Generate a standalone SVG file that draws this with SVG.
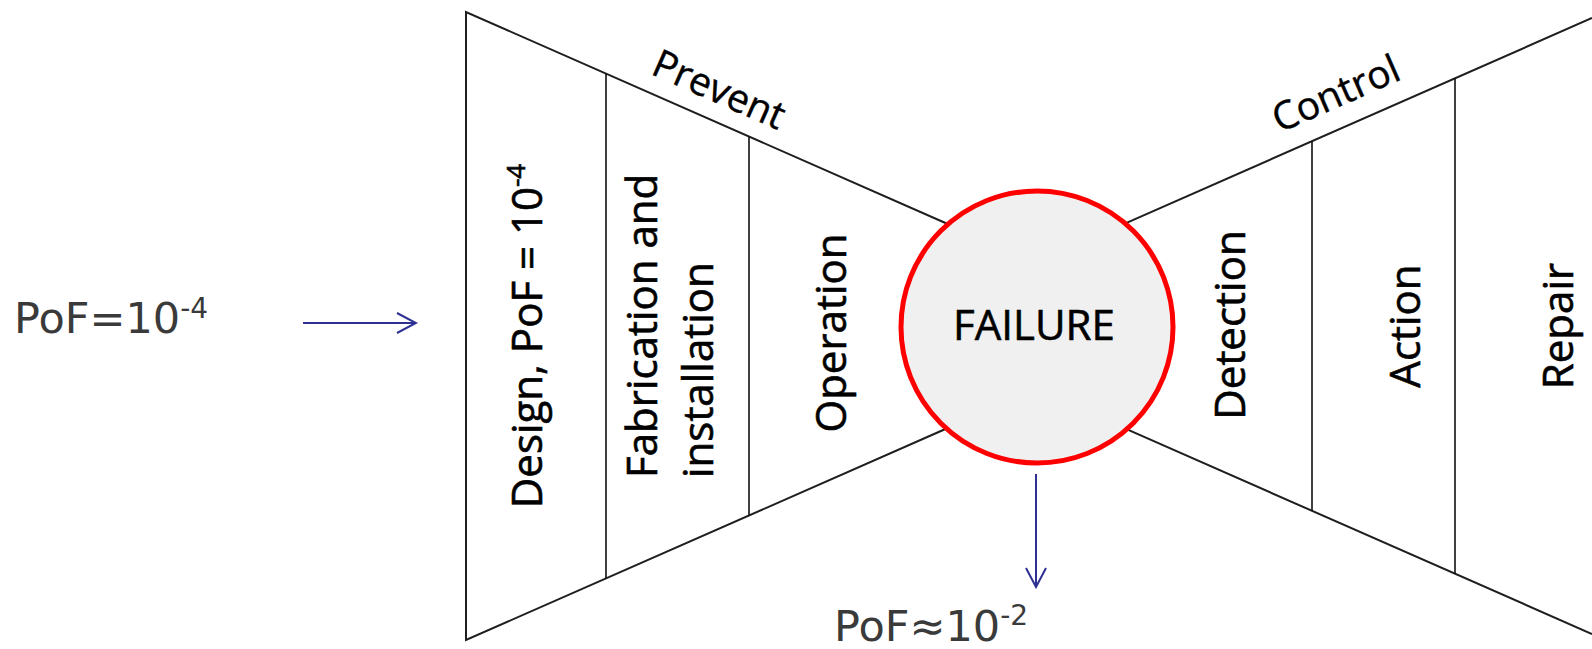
<svg xmlns="http://www.w3.org/2000/svg" width="1592" height="649" viewBox="0 0 1592 649">
  <style>
    .edge { fill: none; stroke: #1e1e1e; stroke-width: 2; }
    .div { fill: none; stroke: #111; stroke-width: 1.6; }
    .lbl { font-family: "Open Sans", "Noto Sans", sans-serif; font-size: 42px; fill: #000; stroke: #000; stroke-width: 0.6; }
    .side { font-family: "Open Sans", "Noto Sans", sans-serif; font-size: 39px; fill: #000; stroke: #000; stroke-width: 0.4; }
    .pof { font-family: "DejaVu Sans", "Verdana", sans-serif; font-size: 43px; fill: #3a3a3a; }
    .sup { font-size: 28px; }
    .arrow { fill: none; stroke: #2e3192; stroke-width: 2; }
  </style>
  <defs>
    <marker id="chev" markerUnits="userSpaceOnUse" viewBox="0 0 22 22" refX="20" refY="11" markerWidth="22" markerHeight="22" orient="auto">
      <path d="M1,1 L20,11 L1,21" fill="none" stroke="#2e3192" stroke-width="2"/>
    </marker>
  </defs>
  <rect width="1592" height="649" fill="#fff"/>

  <g id="prevent">
    <polyline class="edge" points="950,225 466,12 466,640 950,427"/>
    <line class="div" x1="606" y1="73.6" x2="606" y2="578.4"/>
    <line class="div" x1="749" y1="136.5" x2="749" y2="515.5"/>
    <text class="side" text-anchor="middle" transform="translate(719,90) rotate(23.75)" x="0" y="13">Prevent</text>
  </g>

  <g id="control">
    <polyline class="edge" points="1122,224.8 1592,18"/>
    <polyline class="edge" points="1122,427.2 1592,634"/>
    <line class="div" x1="1312" y1="141" x2="1312" y2="511"/>
    <line class="div" x1="1455" y1="78" x2="1455" y2="574"/>
    <text class="side" text-anchor="middle" transform="translate(1336,94) rotate(-23.75)" x="0" y="13">Control</text>
  </g>

  <g id="design">
    <text class="lbl" text-anchor="middle" transform="translate(542,336) rotate(-90)">Design, PoF = 10<tspan font-size="26" dy="-17">-4</tspan></text>
  </g>
  <g id="fabrication">
    <text class="lbl" transform="translate(657,478) rotate(-90)">Fabrication and</text>
    <text class="lbl" transform="translate(713,478) rotate(-90)">installation</text>
  </g>
  <g id="operation">
    <text class="lbl" text-anchor="middle" transform="translate(846,333) rotate(-90)">Operation</text>
  </g>
  <g id="detection">
    <text class="lbl" text-anchor="middle" transform="translate(1245,325) rotate(-90)">Detection</text>
  </g>
  <g id="action">
    <text class="lbl" text-anchor="middle" transform="translate(1420,326) rotate(-90)">Action</text>
  </g>
  <g id="repair">
    <text class="lbl" text-anchor="middle" transform="translate(1573,326) rotate(-90)">Repair</text>
  </g>

  <g id="failure">
    <circle cx="1037" cy="327" r="136" fill="#f0f0f0" stroke="#ff0000" stroke-width="5"/>
    <text class="lbl" font-size="40" text-anchor="middle" x="1034" y="340">FAILURE</text>
  </g>

  <g id="pof-in">
    <text class="pof" x="14" y="333">PoF=10<tspan class="sup" dy="-15">-4</tspan></text>
  </g>
  <g id="pof-out">
    <text class="pof" x="834" y="641">PoF≈10<tspan class="sup" dy="-16">-2</tspan></text>
  </g>

  <g id="connectors">
    <line class="arrow" x1="303" y1="323" x2="416" y2="323" marker-end="url(#chev)"/>
    <line class="arrow" x1="1036" y1="474" x2="1036" y2="587" marker-end="url(#chev)"/>
  </g>
</svg>
